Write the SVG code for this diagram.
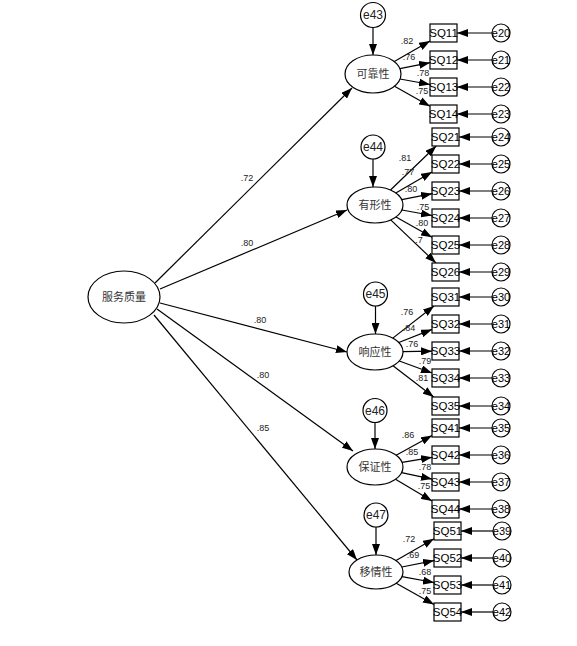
<svg xmlns="http://www.w3.org/2000/svg" width="577" height="646" viewBox="0 0 577 646">
<defs>
<marker id="ah" markerUnits="userSpaceOnUse" markerWidth="11" markerHeight="8" refX="11" refY="4" orient="auto"><path d="M0,0 L11,4 L0,8 z" fill="#000"/></marker>
<style>
.el{fill:#fff;stroke:#000;stroke-width:1.2}
.bx{fill:#fff;stroke:#000;stroke-width:1.2}
.ln{stroke:#000;stroke-width:1.2;fill:none;marker-end:url(#ah)}
.lat{font-family:"Noto Sans CJK SC","Noto Sans",sans-serif;font-size:11px;fill:#333;text-anchor:middle}
.ob{font-family:"Liberation Sans",Arial,sans-serif;font-size:11.5px;fill:#000;text-anchor:middle}
.er{font-family:"Liberation Sans",Arial,sans-serif;font-size:11px;fill:#000;text-anchor:middle}
.el2{font-family:"Liberation Sans",Arial,sans-serif;font-size:12px;fill:#222;text-anchor:middle}
.nm{font-family:"Liberation Sans",Arial,sans-serif;font-size:9px;fill:#222;text-anchor:middle}
</style>
</defs>
<rect width="577" height="646" fill="#fff"/>
<g id="connectors">
<line class="ln" x1="155" y1="283" x2="352" y2="88"/>
<line class="ln" x1="160" y1="289" x2="347" y2="210"/>
<line class="ln" x1="160" y1="303" x2="347" y2="352"/>
<line class="ln" x1="157" y1="309" x2="353" y2="451"/>
<line class="ln" x1="154" y1="315" x2="357" y2="560"/>
<line class="ln" x1="373" y1="27.5" x2="373" y2="55"/>
<line class="ln" x1="373" y1="159" x2="373" y2="187"/>
<line class="ln" x1="375.5" y1="306" x2="375.5" y2="334"/>
<line class="ln" x1="375" y1="422.5" x2="375" y2="449"/>
<line class="ln" x1="376" y1="527" x2="376" y2="555"/>
<line class="ln" x1="394.3" y1="61.6" x2="430" y2="40.9"/>
<line class="ln" x1="399.9" y1="68.7" x2="430" y2="62.7"/>
<line class="ln" x1="400" y1="79" x2="430" y2="84.5"/>
<line class="ln" x1="394.5" y1="86.2" x2="430" y2="106.3"/>
<line class="ln" x1="390.5" y1="190" x2="436.2" y2="146"/>
<line class="ln" x1="395.8" y1="192.9" x2="432" y2="171.9"/>
<line class="ln" x1="401.8" y1="199.7" x2="432" y2="193.7"/>
<line class="ln" x1="401.9" y1="210" x2="432" y2="215.5"/>
<line class="ln" x1="396" y1="216.9" x2="432" y2="237.3"/>
<line class="ln" x1="390.7" y1="219.9" x2="436" y2="263"/>
<line class="ln" x1="392.8" y1="338.1" x2="434" y2="306"/>
<line class="ln" x1="398.8" y1="342.5" x2="432" y2="329.4"/>
<line class="ln" x1="403" y1="351.6" x2="432" y2="351.2"/>
<line class="ln" x1="399.3" y1="361" x2="432" y2="373"/>
<line class="ln" x1="393" y1="365.8" x2="433.7" y2="397"/>
<line class="ln" x1="396.2" y1="455.3" x2="432" y2="435.5"/>
<line class="ln" x1="402.1" y1="462.4" x2="432" y2="457.3"/>
<line class="ln" x1="401.6" y1="472.7" x2="432" y2="479.1"/>
<line class="ln" x1="395.5" y1="479.2" x2="432" y2="501"/>
<line class="ln" x1="396" y1="560.6" x2="434" y2="538.7"/>
<line class="ln" x1="401.8" y1="567" x2="434" y2="560.6"/>
<line class="ln" x1="401.9" y1="576.7" x2="434" y2="582.5"/>
<line class="ln" x1="396.2" y1="583.3" x2="434" y2="604.4"/>
<line class="ln" x1="492" y1="33" x2="457" y2="33"/>
<line class="ln" x1="492" y1="60" x2="457" y2="60"/>
<line class="ln" x1="492" y1="87" x2="457" y2="87"/>
<line class="ln" x1="492" y1="114" x2="457" y2="114"/>
<line class="ln" x1="492" y1="137" x2="459" y2="137"/>
<line class="ln" x1="492" y1="164" x2="459" y2="164"/>
<line class="ln" x1="492" y1="191" x2="459" y2="191"/>
<line class="ln" x1="492" y1="218" x2="459" y2="218"/>
<line class="ln" x1="492" y1="245" x2="459" y2="245"/>
<line class="ln" x1="492" y1="272" x2="459" y2="272"/>
<line class="ln" x1="492" y1="297" x2="459" y2="297"/>
<line class="ln" x1="492" y1="324" x2="459" y2="324"/>
<line class="ln" x1="492" y1="351" x2="459" y2="351"/>
<line class="ln" x1="492" y1="378" x2="459" y2="378"/>
<line class="ln" x1="492" y1="406" x2="459" y2="406"/>
<line class="ln" x1="492" y1="428" x2="459" y2="428"/>
<line class="ln" x1="492" y1="455" x2="459" y2="455"/>
<line class="ln" x1="492" y1="482" x2="459" y2="482"/>
<line class="ln" x1="492" y1="509" x2="459" y2="509"/>
<line class="ln" x1="493" y1="531" x2="461" y2="531"/>
<line class="ln" x1="493" y1="558" x2="461" y2="558"/>
<line class="ln" x1="493" y1="585" x2="461" y2="585"/>
<line class="ln" x1="493" y1="612" x2="461" y2="612"/>
</g>
<g id="labels">
<text class="nm" x="247" y="181">.72</text>
<text class="nm" x="247" y="246">.80</text>
<text class="nm" x="260" y="323">.80</text>
<text class="nm" x="263" y="378">.80</text>
<text class="nm" x="263" y="431">.85</text>
<text class="nm" x="407" y="44">.82</text>
<text class="nm" x="409" y="60">.76</text>
<text class="nm" x="423" y="76">.78</text>
<text class="nm" x="422" y="94">.75</text>
<text class="nm" x="405" y="161">.81</text>
<text class="nm" x="408" y="175">.77</text>
<text class="nm" x="411" y="192">.80</text>
<text class="nm" x="423" y="210">.75</text>
<text class="nm" x="422" y="226">.80</text>
<text class="nm" x="419" y="243">.7</text>
<text class="nm" x="407" y="315">.76</text>
<text class="nm" x="409" y="331">.84</text>
<text class="nm" x="412" y="347">.76</text>
<text class="nm" x="425" y="364">.79</text>
<text class="nm" x="422" y="381">.81</text>
<text class="nm" x="408" y="438">.86</text>
<text class="nm" x="412" y="455">.85</text>
<text class="nm" x="425" y="470">.78</text>
<text class="nm" x="424" y="489">.75</text>
<text class="nm" x="409" y="542">.72</text>
<text class="nm" x="413" y="558">.69</text>
<text class="nm" x="425" y="575">.68</text>
<text class="nm" x="425" y="594">.75</text>
</g>
<g id="n-fwzl"><ellipse class="el" cx="124" cy="297" rx="36" ry="26"/><text class="lat" x="124" y="301">服务质量</text></g>
<g id="n-kkx"><ellipse class="el" cx="373" cy="74" rx="28" ry="19"/><text class="lat" x="373" y="78">可靠性</text></g>
<g id="n-yxx"><ellipse class="el" cx="375" cy="205" rx="28" ry="18"/><text class="lat" x="375" y="209">有形性</text></g>
<g id="n-xyx"><ellipse class="el" cx="375" cy="352" rx="28" ry="18"/><text class="lat" x="375" y="356">响应性</text></g>
<g id="n-bzx"><ellipse class="el" cx="375" cy="467" rx="28" ry="18"/><text class="lat" x="375" y="471">保证性</text></g>
<g id="n-yqx"><ellipse class="el" cx="376" cy="572" rx="27" ry="17"/><text class="lat" x="376" y="576">移情性</text></g>
<g id="n-e43"><circle class="el" cx="373" cy="15" r="12.5"/><text class="el2" x="373" y="19">e43</text></g>
<g id="n-e44"><circle class="el" cx="373" cy="147" r="12"/><text class="el2" x="373" y="151">e44</text></g>
<g id="n-e45"><circle class="el" cx="375.5" cy="294" r="12"/><text class="el2" x="375.5" y="298">e45</text></g>
<g id="n-e46"><circle class="el" cx="375" cy="410.5" r="12"/><text class="el2" x="375" y="414.5">e46</text></g>
<g id="n-e47"><circle class="el" cx="376" cy="515" r="12"/><text class="el2" x="376" y="519">e47</text></g>
<g id="n-SQ11"><rect class="bx" x="430" y="24" width="27" height="18"/><text class="ob" x="443.5" y="37">SQ11</text></g>
<g id="n-SQ12"><rect class="bx" x="430" y="51" width="27" height="18"/><text class="ob" x="443.5" y="64">SQ12</text></g>
<g id="n-SQ13"><rect class="bx" x="430" y="78" width="27" height="18"/><text class="ob" x="443.5" y="91">SQ13</text></g>
<g id="n-SQ14"><rect class="bx" x="430" y="105" width="27" height="18"/><text class="ob" x="443.5" y="118">SQ14</text></g>
<g id="n-SQ21"><rect class="bx" x="432" y="128" width="27" height="18"/><text class="ob" x="445.5" y="141">SQ21</text></g>
<g id="n-SQ22"><rect class="bx" x="432" y="155" width="27" height="18"/><text class="ob" x="445.5" y="168">SQ22</text></g>
<g id="n-SQ23"><rect class="bx" x="432" y="182" width="27" height="18"/><text class="ob" x="445.5" y="195">SQ23</text></g>
<g id="n-SQ24"><rect class="bx" x="432" y="209" width="27" height="18"/><text class="ob" x="445.5" y="222">SQ24</text></g>
<g id="n-SQ25"><rect class="bx" x="432" y="236" width="27" height="18"/><text class="ob" x="445.5" y="249">SQ25</text></g>
<g id="n-SQ26"><rect class="bx" x="432" y="263" width="27" height="18"/><text class="ob" x="445.5" y="276">SQ26</text></g>
<g id="n-SQ31"><rect class="bx" x="432" y="288" width="27" height="18"/><text class="ob" x="445.5" y="301">SQ31</text></g>
<g id="n-SQ32"><rect class="bx" x="432" y="315" width="27" height="18"/><text class="ob" x="445.5" y="328">SQ32</text></g>
<g id="n-SQ33"><rect class="bx" x="432" y="342" width="27" height="18"/><text class="ob" x="445.5" y="355">SQ33</text></g>
<g id="n-SQ34"><rect class="bx" x="432" y="369" width="27" height="18"/><text class="ob" x="445.5" y="382">SQ34</text></g>
<g id="n-SQ35"><rect class="bx" x="432" y="397" width="27" height="18"/><text class="ob" x="445.5" y="410">SQ35</text></g>
<g id="n-SQ41"><rect class="bx" x="432" y="419" width="27" height="18"/><text class="ob" x="445.5" y="432">SQ41</text></g>
<g id="n-SQ42"><rect class="bx" x="432" y="446" width="27" height="18"/><text class="ob" x="445.5" y="459">SQ42</text></g>
<g id="n-SQ43"><rect class="bx" x="432" y="473" width="27" height="18"/><text class="ob" x="445.5" y="486">SQ43</text></g>
<g id="n-SQ44"><rect class="bx" x="432" y="500" width="27" height="18"/><text class="ob" x="445.5" y="513">SQ44</text></g>
<g id="n-SQ51"><rect class="bx" x="434" y="522" width="27" height="18"/><text class="ob" x="447.5" y="535">SQ51</text></g>
<g id="n-SQ52"><rect class="bx" x="434" y="549" width="27" height="18"/><text class="ob" x="447.5" y="562">SQ52</text></g>
<g id="n-SQ53"><rect class="bx" x="434" y="576" width="27" height="18"/><text class="ob" x="447.5" y="589">SQ53</text></g>
<g id="n-SQ54"><rect class="bx" x="434" y="603" width="27" height="18"/><text class="ob" x="447.5" y="616">SQ54</text></g>
<g id="n-e20"><circle class="el" cx="501" cy="33" r="9"/><text class="er" x="501" y="37">e20</text></g>
<g id="n-e21"><circle class="el" cx="501" cy="60" r="9"/><text class="er" x="501" y="64">e21</text></g>
<g id="n-e22"><circle class="el" cx="501" cy="87" r="9"/><text class="er" x="501" y="91">e22</text></g>
<g id="n-e23"><circle class="el" cx="501" cy="114" r="9"/><text class="er" x="501" y="118">e23</text></g>
<g id="n-e24"><circle class="el" cx="501" cy="137" r="9"/><text class="er" x="501" y="141">e24</text></g>
<g id="n-e25"><circle class="el" cx="501" cy="164" r="9"/><text class="er" x="501" y="168">e25</text></g>
<g id="n-e26"><circle class="el" cx="501" cy="191" r="9"/><text class="er" x="501" y="195">e26</text></g>
<g id="n-e27"><circle class="el" cx="501" cy="218" r="9"/><text class="er" x="501" y="222">e27</text></g>
<g id="n-e28"><circle class="el" cx="501" cy="245" r="9"/><text class="er" x="501" y="249">e28</text></g>
<g id="n-e29"><circle class="el" cx="501" cy="272" r="9"/><text class="er" x="501" y="276">e29</text></g>
<g id="n-e30"><circle class="el" cx="501" cy="297" r="9"/><text class="er" x="501" y="301">e30</text></g>
<g id="n-e31"><circle class="el" cx="501" cy="324" r="9"/><text class="er" x="501" y="328">e31</text></g>
<g id="n-e32"><circle class="el" cx="501" cy="351" r="9"/><text class="er" x="501" y="355">e32</text></g>
<g id="n-e33"><circle class="el" cx="501" cy="378" r="9"/><text class="er" x="501" y="382">e33</text></g>
<g id="n-e34"><circle class="el" cx="501" cy="406" r="9"/><text class="er" x="501" y="410">e34</text></g>
<g id="n-e35"><circle class="el" cx="501" cy="428" r="9"/><text class="er" x="501" y="432">e35</text></g>
<g id="n-e36"><circle class="el" cx="501" cy="455" r="9"/><text class="er" x="501" y="459">e36</text></g>
<g id="n-e37"><circle class="el" cx="501" cy="482" r="9"/><text class="er" x="501" y="486">e37</text></g>
<g id="n-e38"><circle class="el" cx="501" cy="509" r="9"/><text class="er" x="501" y="513">e38</text></g>
<g id="n-e39"><circle class="el" cx="502" cy="531" r="9"/><text class="er" x="502" y="535">e39</text></g>
<g id="n-e40"><circle class="el" cx="502" cy="558" r="9"/><text class="er" x="502" y="562">e40</text></g>
<g id="n-e41"><circle class="el" cx="502" cy="585" r="9"/><text class="er" x="502" y="589">e41</text></g>
<g id="n-e42"><circle class="el" cx="502" cy="612" r="9"/><text class="er" x="502" y="616">e42</text></g>
</svg>
